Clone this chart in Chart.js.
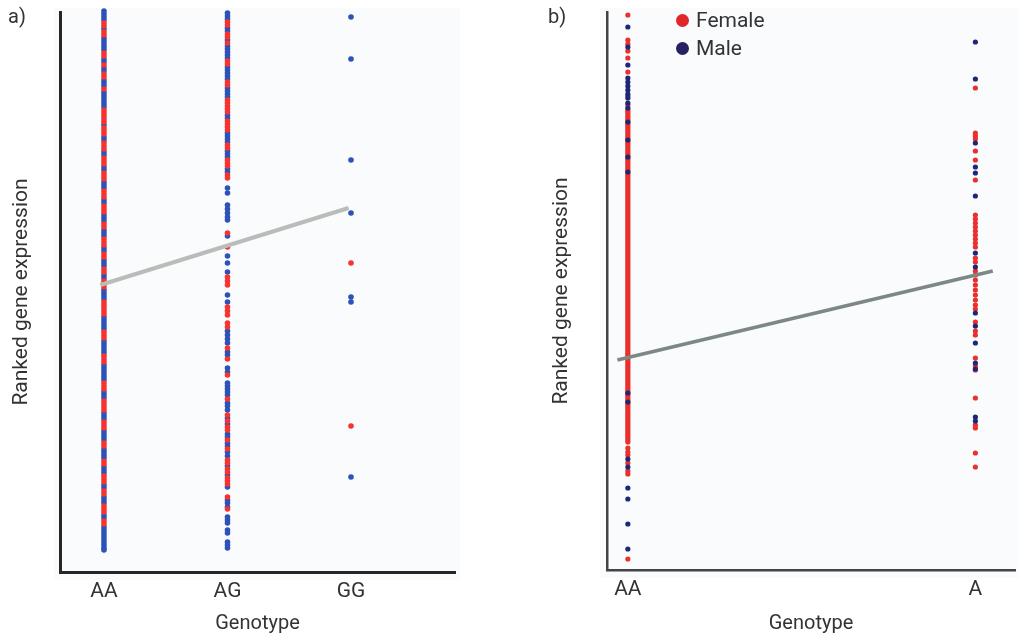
<!DOCTYPE html>
<html>
<head>
<meta charset="utf-8">
<script src="https://cdn.jsdelivr.net/npm/chart.js@4.4.1/dist/chart.umd.min.js"></script>
<style>
html,body{margin:0;padding:0;background:#fff;width:1019px;height:638px;overflow:hidden;font-family:Roboto,"DejaVu Sans",sans-serif;}
.panel{position:absolute;top:0;height:638px;}
#pa{left:0;width:510px;}
#pb{left:510px;width:509px;}
.tag{position:absolute;top:4px;font-size:20px;color:#333;}
#legend{position:absolute;left:676px;top:6px;font-size:21px;color:#333;}
#legend .row{display:flex;align-items:center;height:28px;}
#legend .dot{width:13px;height:13px;border-radius:50%;display:inline-block;margin-right:7px;}
</style>
</head>
<body>
<div class="panel" id="pa"><canvas id="ca" width="510" height="638"></canvas></div>
<div class="panel" id="pb"><canvas id="cb" width="509" height="638"></canvas></div>
<div class="tag" style="left:8px">a)</div>
<div class="tag" style="left:548px">b)</div>
<div id="legend"></div>
<script>
// ---------- DATA ----------
const sexLabels = ['Female', 'Male'];
const yTitle = 'Ranked gene expression';
const xTitle = 'Genotype';

// Panel a
const genotypesA = ['AA', 'AG', 'GG'];
const aFemaleAA = [549,546,540,537,519,516,507,498,495,483,462,459,456,453,450,444,441,438,429,426,423,414,411,408,399,396,393,381,378,375,366,363,360,348,345,333,330,327,318,315,303,300,291,288,285,270,267,264,261,258,240,237,234,216,213,210,189,186,183,171,168,165,162,150,147,144,129,126,111,108,96,93,90,81,78,66,63,60,51,48];
const aMaleAA = [561,558,555,552,543,534,531,528,525,522,513,510,504,501,492,489,486,480,477,474,471,468,465,447,435,432,420,417,405,402,390,387,384,372,369,357,354,351,342,339,336,324,321,312,309,306,297,294,282,279,276,273,255,252,249,246,243,231,228,225,222,219,207,204,201,198,195,192,180,177,174,159,156,153,141,138,135,132,123,120,117,114,105,102,99,87,84,75,72,69,57,54,45,42,39,36,33,30,27,24,22];
const aFemaleAG = [550,547,538,535,529,511,508,490,487,472,469,466,463,460,451,448,445,442,427,424,412,409,406,397,394,339,325,295,291,287,265,261,257,249,245,224,213,197,173,157,151,145,142,132,123,112,109,103,100,94,91,88,75,63];
const aMaleAG = [559,556,553,544,541,532,526,523,520,517,514,505,502,499,496,493,484,481,478,475,457,454,439,436,433,430,421,418,415,403,400,384,379,367,363,359,355,352,336,316,309,300,277,270,241,237,233,229,220,217,204,200,189,186,183,180,177,169,166,162,154,148,138,135,129,126,120,116,106,97,85,72,69,65,55,52,49,42,39,30,27,24];
const aFemaleGG = [309,146];
const aMaleGG = [555,513,412,359,275,270,95];
const aTrendX = [-0.03, 1.98];
const aTrendY = [287, 364];

// Panel b
const genotypesB = ['AA', 'A'];
const bFemaleAA = [555,530,526,519,512,498,474,465,
  460,458,456,454,452,450,448,446,444,442,440,438,436,434,432,430,428,426,424,422,420,418,416,414,412,410,
  408,406,404,402,400,398,396,394,392,390,388,386,384,382,380,378,376,374,372,370,368,366,364,362,360,358,
  356,354,352,350,348,346,344,342,340,338,336,334,332,330,328,326,324,322,320,318,316,314,312,310,308,306,
  304,302,300,298,296,294,292,290,288,286,284,282,280,278,276,274,272,270,268,266,264,262,260,258,256,254,
  252,250,248,246,244,242,240,238,236,234,232,230,228,226,224,222,220,218,216,214,212,210,208,206,204,202,
  200,198,196,194,192,190,188,186,184,182,180,178,176,174,172,170,168,166,164,162,160,158,156,154,152,150,
  148,146,144,142,140,138,136,134,132,130,128,
  122,118,115,107,99,96,11];
const bMaleAA = [543,523,505,492,488,484,480,476,472,467,462,448,430,413,398,177,168,111,103,82,71,46,21];
const bFemaleA = [482,437,434,431,419,410,390,355,351,347,343,339,335,331,327,323,312,308,299,295,290,285,280,275,270,265,261,248,239,235,212,204,200,172,145,142,117,103];
const bMaleA = [528,491,427,403,397,374,317,303,257,244,227,207,201,153,149];
const bTrendX = [-0.03, 1.05];
const bTrendY = [210, 299];

// ---------- HELPERS ----------
function pts(groups) {
  const out = [];
  groups.forEach((arr, i) => arr.forEach(v => out.push({x: i, y: v})));
  return out;
}
function trend(xs, ys) { return xs.map((x, i) => ({x: x, y: ys[i]})); }

const bgPlugin = {
  id: 'bg',
  beforeDraw(c, args, o) {
    const ctx = c.ctx;
    ctx.save();
    ctx.fillStyle = o.color;
    ctx.fillRect(o.x0, o.y0, o.x1 - o.x0, o.y1 - o.y0);
    ctx.restore();
  }
};

Chart.defaults.font.family = 'Roboto';
Chart.defaults.color = '#333';

function makeChart(id, cfg) {
  const W = cfg.W, H = 638;
  return new Chart(document.getElementById(id), {
    type: 'scatter',
    data: {
      datasets: [
        {label: 'trend', data: trend(cfg.trendX, cfg.trendY), showLine: true, pointRadius: 0,
         borderColor: cfg.lineColor, borderWidth: cfg.lineWidth, order: 0, clip: false},
        {label: sexLabels[1], data: pts(cfg.male), backgroundColor: cfg.maleColor, borderWidth: 0,
         pointRadius: cfg.radius, order: cfg.maleOrder, clip: false},
        {label: sexLabels[0], data: pts(cfg.female), backgroundColor: cfg.femaleColor, borderWidth: 0,
         pointRadius: cfg.radius, order: cfg.femaleOrder, clip: false}
      ]
    },
    options: {
      responsive: false,
      animation: false,
      events: [],
      layout: {padding: {left: 0, right: W - cfg.area.right, top: cfg.area.top, bottom: 0}},
      plugins: {
        legend: {display: false},
        tooltip: {enabled: false},
        bg: cfg.bg
      },
      scales: {
        x: {
          type: 'linear', min: cfg.xMin, max: cfg.xMax,
          grid: {display: false},
          border: {display: true, color: cfg.axisColor, width: cfg.axisWidth},
          afterBuildTicks: s => { s.ticks = cfg.labels.map((_, i) => ({value: i})); },
          afterFit: s => { s.height = H - cfg.area.bottom; },
          ticks: {autoSkip: false, maxRotation: 0, minRotation: 0, padding: -1, color: '#333',
                  font: {size: 21}, callback: v => cfg.labels[v]},
          title: {display: true, text: xTitle, color: '#333', font: {size: 20}, padding: {top: 0, bottom: 2}}
        },
        y: {
          min: 0, max: cfg.yMax,
          grid: {display: false},
          border: {display: true, color: cfg.axisColor, width: cfg.axisWidth},
          ticks: {display: false},
          afterFit: s => { s.width = cfg.area.left; },
          title: {display: true, text: yTitle, color: '#333', font: {size: 21}, padding: {top: cfg.yTitlePad, bottom: 0}}
        }
      }
    },
    plugins: [bgPlugin]
  });
}

makeChart('ca', {
  W: 510, area: {left: 60, right: 455, top: 12, bottom: 572},
  labels: genotypesA,
  female: [aFemaleAA, aFemaleAG, aFemaleGG],
  male: [aMaleAA, aMaleAG, aMaleGG],
  femaleOrder: 1, maleOrder: 2,
  trendX: aTrendX, trendY: aTrendY,
  femaleColor: '#f5332f', maleColor: '#2c52b8', radius: 2.8,
  lineColor: '#b9bdba', lineWidth: 4,
  axisColor: '#262626', axisWidth: 3,
  xMin: -0.356, xMax: 2.842, yMax: 560, yTitlePad: 9,
  bg: {color: '#fafbfd', x0: 54, y0: 8, x1: 460, y1: 580}
});

makeChart('cb', {
  W: 509, area: {left: 97, right: 509, top: 12, bottom: 570},
  labels: genotypesB,
  female: [bFemaleAA, bFemaleA],
  male: [bMaleAA, bMaleA],
  femaleOrder: 2, maleOrder: 1,
  trendX: bTrendX, trendY: bTrendY,
  femaleColor: '#e8302c', maleColor: '#1c2777', radius: 2.6,
  lineColor: '#7d8884', lineWidth: 3.5,
  axisColor: '#444', axisWidth: 2.5,
  xMin: -0.06, xMax: 1.114, yMax: 558, yTitlePad: 39,
  bg: {color: '#fafbfd', x0: 90, y0: 8, x1: 509, y1: 578}
});

// HTML legend built from the dataset labels
const legendColors = ['#e0262b', '#262262'];
document.getElementById('legend').innerHTML = sexLabels.map((s, i) =>
  '<div class="row"><span class="dot" style="background:' + legendColors[i] + '"></span>' + s + '</div>').join('');
</script>
</body>
</html>
